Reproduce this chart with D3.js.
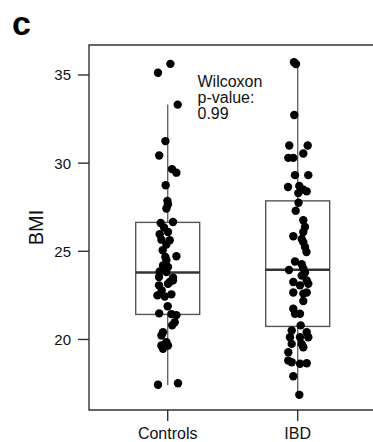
<!DOCTYPE html>
<html><head><meta charset="utf-8">
<script src="https://cdn.jsdelivr.net/npm/d3@7"></script>
<style>html,body{margin:0;padding:0;background:#fff}svg{display:block}text{font-family:"Liberation Sans",Arial,Helvetica,sans-serif}</style>
</head><body>
<script>
const categories = ["Controls", "IBD"];
const yTicks = [20, 25, 30, 35];
// box stats [whiskerLow, q1, median, q3, whiskerHigh]
const controlsBox = [17.4, 21.42, 23.8, 26.64, 33.32];
const ibdBox = [16.9, 20.74, 23.95, 27.86, 35.7];
// points: BMI values and horizontal jitter (px from centre)
const controlsBMI = [35.13,35.63,33.32,31.25,30.43,29.66,29.46,28.75,27.86,27.67,27.43,26.61,26.66,26.35,26.10,25.97,25.66,25.63,25.38,25.06,24.72,24.68,24.49,24.20,24.11,23.86,23.82,23.51,23.54,23.26,23.07,23.16,23.35,22.78,22.50,22.44,22.56,21.88,21.48,21.44,21.38,20.98,20.80,20.41,20.23,19.85,19.66,19.66,19.47,17.43,17.52];
const controlsJit = [-9.7,2.7,10,-2.3,-8.5,4.3,8.7,-2,-0.3,0.3,-1.3,-7,5.3,-3.7,0.3,-8,-6.3,2,-1.3,-5,8.7,-2.3,-1.3,-4.7,0.3,-8,-1.3,5.3,-8.7,2,-8.7,0.3,5.3,-6,-10.3,-3,3.7,0,-8.5,3.7,8.7,7,4.5,-4.7,-6.3,-1.3,-6.3,0.3,-4.7,-9.7,10.3];
const ibdBMI = [35.72,35.62,32.73,31.0,31.0,30.3,30.3,30.55,29.32,29.32,28.65,28.7,28.5,28.4,28.3,27.75,27.3,26.76,26.38,26.1,25.85,25.7,25.52,25.24,24.96,24.42,24.27,23.94,24.03,23.8,23.62,23.26,23.35,23.07,23.16,22.66,22.66,22.6,22.18,21.74,21.46,21.46,20.8,20.51,20.41,20.13,20.13,20.13,19.75,19.75,19.56,19.28,18.81,18.71,18.62,18.65,17.91,16.86];
const ibdJit = [-3.7,-1.7,-3.4,-8.4,10,-9.4,-4.4,5.6,-2.7,10.6,-9.7,1.6,5.6,9,0.6,0.8,-2,5.6,7.3,5.6,-4.4,4,5.6,7.3,8.8,-2.7,4,-8.7,5.6,7.3,4,-4.4,9,2.3,10.6,-4.4,9,5.6,5.6,-4.4,-2.7,2.3,3,-6,9,-7.7,2.3,10.6,-6,4,5.6,-9.4,-9.4,-6,2.3,9,-4.4,1.6];

const W = 373, H = 442;
const svg = d3.select("body").append("svg").attr("width", W).attr("height", H);
const pL = 89, pT = 45, pB = 410, pR = 373;
const y = d3.scaleLinear().domain([16, 36.7]).range([pB, pT]);
const x = d3.scalePoint().domain(categories).range([167.7, 297.7]);
const boxW = 64;

// frame
const frameCol = "#333";
svg.append("path").attr("d", `M${pR+2},${pT}H${pL}V${pB}H${pR+2}`)
  .attr("fill", "none").attr("stroke", frameCol).attr("stroke-width", 1.4);

// y axis ticks
const ya = svg.append("g");
yTicks.forEach(t => {
  ya.append("line").attr("x1", pL - 11).attr("x2", pL).attr("y1", y(t)).attr("y2", y(t))
    .attr("stroke", frameCol).attr("stroke-width", 1.4);
  ya.append("text").attr("x", pL - 18).attr("y", y(t)).attr("dy", "0.36em")
    .attr("text-anchor", "end").attr("font-size", 15).attr("fill", "#111").text(t);
});
// x axis ticks
categories.forEach(c => {
  svg.append("line").attr("x1", x(c)).attr("x2", x(c)).attr("y1", pB).attr("y2", pB + 11)
    .attr("stroke", frameCol).attr("stroke-width", 1.4);
  svg.append("text").attr("x", x(c)).attr("y", 439).attr("text-anchor", "middle")
    .attr("font-size", 16).attr("fill", "#111").text(c);
});

// y label
svg.append("text").attr("transform", `translate(43,${(pT+pB)/2}) rotate(-90)`)
  .attr("text-anchor", "middle").attr("font-size", 20).attr("fill", "#111").text("BMI");

// panel letter
svg.append("text").attr("x", 12).attr("y", 35).attr("font-size", 34).attr("font-weight", "bold")
  .attr("fill", "#000").text("c");

// boxes
const boxes = [[categories[0], controlsBox], [categories[1], ibdBox]];
boxes.forEach(([c, b]) => {
  const cx = x(c);
  svg.append("line").attr("x1", cx).attr("x2", cx).attr("y1", y(b[0])).attr("y2", y(b[1]))
    .attr("stroke", "#666").attr("stroke-width", 1.4);
  svg.append("line").attr("x1", cx).attr("x2", cx).attr("y1", y(b[3])).attr("y2", y(b[4]))
    .attr("stroke", "#666").attr("stroke-width", 1.4);
  svg.append("rect").attr("x", cx - boxW/2).attr("y", y(b[3])).attr("width", boxW)
    .attr("height", y(b[1]) - y(b[3])).attr("fill", "none").attr("stroke", "#555").attr("stroke-width", 1.4);
  svg.append("line").attr("x1", cx - boxW/2).attr("x2", cx + boxW/2).attr("y1", y(b[2])).attr("y2", y(b[2]))
    .attr("stroke", "#333").attr("stroke-width", 2.4);
});

// points
const pts = [];
controlsBMI.forEach((v, i) => pts.push({c: categories[0], v, j: controlsJit[i]}));
ibdBMI.forEach((v, i) => pts.push({c: categories[1], v, j: ibdJit[i]}));
svg.append("g").selectAll("circle").data(pts).join("circle")
  .attr("cx", d => x(d.c) + d.j).attr("cy", d => y(d.v)).attr("r", 4.2).attr("fill", "#000");

// annotation
const ann = svg.append("text").attr("font-size", 16).attr("fill", "#111");
[["Wilcoxon", 87.3], ["p-value:", 103], ["0.99", 119]].forEach(([t, yy]) => {
  ann.append("tspan").attr("x", 197.5).attr("y", yy).text(t);
});
</script>
</body></html>
